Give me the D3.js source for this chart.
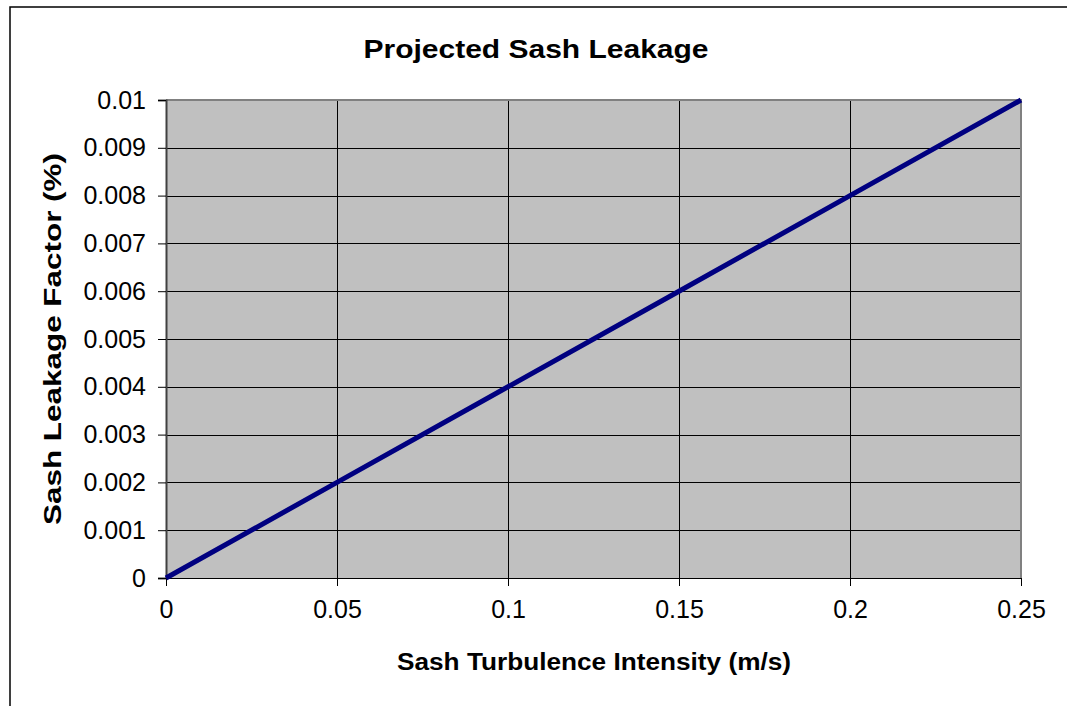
<!DOCTYPE html>
<html lang="en">
<head>
<meta charset="UTF-8">
<title>Projected Sash Leakage</title>
<style>
    body { margin: 0; background: #fff; }
    svg { display: block; font-family: "Liberation Sans", Arial, sans-serif; }
</style>
</head>
<body>
<svg id="chart" width="1067" height="706"></svg>
<script src="https://d3js.org/d3.v7.min.js"></script>
<script>

    // data
    var turbulence = [0, 0.05, 0.1, 0.15, 0.2, 0.25];
    var leakage = [0, 0.002, 0.004, 0.006, 0.008, 0.01];
    var xTicks = [0, 0.05, 0.1, 0.15, 0.2, 0.25];
    var yTicks = [0, 0.001, 0.002, 0.003, 0.004, 0.005, 0.006, 0.007, 0.008, 0.009, 0.01];

    var svg = d3.select("#chart"),
        plotLeft = 166, plotRight = 1021, plotTop = 100, plotBottom = 578;

    var x = d3.scaleLinear().domain([0, 0.25]).range([plotLeft, plotRight]),
        y = d3.scaleLinear().domain([0, 0.01]).range([plotBottom, plotTop]);

    // outer chart frame (runs off the right and bottom edges)
    svg.append("rect")
        .attr("x", 10).attr("y", 7)
        .attr("width", 1100).attr("height", 760)
        .attr("fill", "none").attr("stroke", "#000").attr("stroke-width", 1.5);

    // plot area
    svg.append("rect")
        .attr("x", plotLeft).attr("y", plotTop)
        .attr("width", plotRight - plotLeft).attr("height", plotBottom - plotTop)
        .attr("fill", "#c0c0c0");

    // grid
    svg.append("g").selectAll("line").data(yTicks).enter().append("line")
        .attr("x1", plotLeft).attr("x2", plotRight)
        .attr("y1", function (d) { return Math.round(y(d)) + 0.5; })
        .attr("y2", function (d) { return Math.round(y(d)) + 0.5; })
        .attr("stroke", "#000").attr("stroke-width", 1);

    svg.append("g").selectAll("line").data(xTicks).enter().append("line")
        .attr("y1", plotTop).attr("y2", plotBottom)
        .attr("x1", function (d) { return Math.round(x(d)) + 0.5; })
        .attr("x2", function (d) { return Math.round(x(d)) + 0.5; })
        .attr("stroke", "#000").attr("stroke-width", 1);

    // plot border: grey top/right
    svg.append("path")
        .attr("d", "M" + plotLeft + "," + plotTop + "H" + plotRight + "V" + plotBottom)
        .attr("fill", "none").attr("stroke", "#808080").attr("stroke-width", 2);

    // axes
    var yAxis = d3.axisLeft(y).tickValues(yTicks).tickSize(8).tickPadding(12)
        .tickFormat(function (d) { return String(+d.toFixed(3)); });
    var xAxis = d3.axisBottom(x).tickValues(xTicks).tickSize(8).tickPadding(12)
        .tickFormat(function (d) { return String(+d.toFixed(2)); });

    var gy = svg.append("g").attr("transform", "translate(" + plotLeft + ",0)").call(yAxis);
    var gx = svg.append("g").attr("transform", "translate(0," + plotBottom + ")").call(xAxis);

    [gx, gy].forEach(function (g) {
        g.select(".domain").attr("stroke", "#404040").attr("stroke-width", 2);
        g.selectAll(".tick line").attr("stroke", "#000");
        g.selectAll(".tick text")
            .attr("font-family", "Liberation Sans, Arial, sans-serif")
            .attr("font-size", 25).attr("fill", "#000");
    });
    gx.select(".domain").attr("stroke", "#000").attr("stroke-width", 1);
    gy.selectAll(".tick text").attr("x", -20);
    gx.selectAll(".tick text").attr("y", 22);

    // series line
    var line = d3.line()
        .x(function (d, i) { return x(turbulence[i]); })
        .y(function (d) { return y(d); });

    svg.append("path")
        .datum(leakage)
        .attr("d", line)
        .attr("fill", "none")
        .attr("stroke", "#000080")
        .attr("stroke-width", 5);

    // titles
    svg.append("text")
        .attr("x", 536).attr("y", 58)
        .attr("text-anchor", "middle")
        .attr("font-size", 25).attr("font-weight", "bold")
        .attr("textLength", 345).attr("lengthAdjust", "spacingAndGlyphs")
        .text("Projected Sash Leakage");

    svg.append("text")
        .attr("x", 594).attr("y", 670)
        .attr("text-anchor", "middle")
        .attr("font-size", 23).attr("font-weight", "bold")
        .attr("textLength", 394).attr("lengthAdjust", "spacingAndGlyphs")
        .text("Sash Turbulence Intensity (m/s)");

    svg.append("text")
        .attr("transform", "translate(61," + (plotTop + plotBottom) / 2 + ") rotate(-90)")
        .attr("text-anchor", "middle")
        .attr("font-size", 23).attr("font-weight", "bold")
        .attr("textLength", 372).attr("lengthAdjust", "spacingAndGlyphs")
        .text("Sash Leakage Factor (%)");

</script>
</body>
</html>
